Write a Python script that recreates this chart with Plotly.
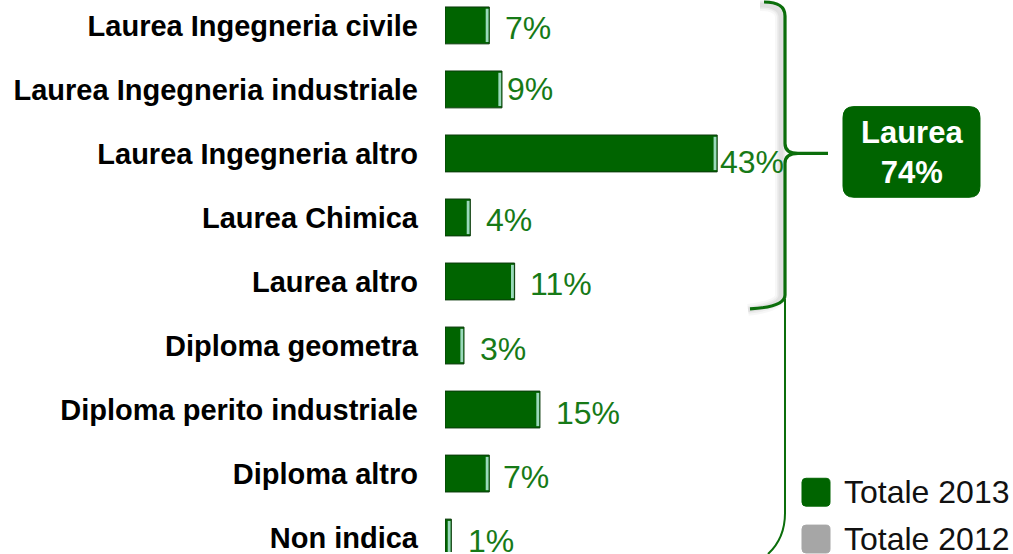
import plotly.graph_objects as go

categories = [
    "Laurea Ingegneria civile",
    "Laurea Ingegneria industriale",
    "Laurea Ingegneria altro",
    "Laurea Chimica",
    "Laurea altro",
    "Diploma geometra",
    "Diploma perito industriale",
    "Diploma altro",
    "Non indica",
]
values_2013 = [7, 9, 43, 4, 11, 3, 15, 7, 1]
value_labels = ["7%", "9%", "43%", "4%", "11%", "3%", "15%", "7%", "1%"]
group_label = "Laurea<br>74%"
legend_names = ["Totale 2013", "Totale 2012"]

W, H = 1013, 554
L_MARGIN = 445
PX_PER_UNIT = 6.33
PLOT_W = W - L_MARGIN
X_MAX = PLOT_W / PX_PER_UNIT
ROW = 64.25
FIRST_CENTER = 25.5

GREEN = "#006400"
TEXT_GREEN = "#177a17"
BRACE = "#0b6e0b"
FONT = "Liberation Sans, Arial, sans-serif"

label_gap = [16, 5, 3, 16, 15, 16, 16, 14, 17]
label_dy = [-3, 0, -9, -3, -3, -3, -3, -3, -3]


def P(x, y):
    """pixel -> paper coordinates"""
    return (x - L_MARGIN) / PLOT_W, 1 - y / H


def path(cmds):
    out = []
    for c in cmds:
        if isinstance(c, str):
            out.append(c)
        else:
            px, py = P(*c)
            out.append(f"{px:.5f},{py:.5f}")
    return " ".join(out)


def rrect(x0, y0, x1, y1, r):
    return path([
        "M", (x0 + r, y0), "L", (x1 - r, y0), "Q", (x1, y0), (x1, y0 + r),
        "L", (x1, y1 - r), "Q", (x1, y1), (x1 - r, y1), "L", (x0 + r, y1),
        "Q", (x0, y1), (x0, y1 - r), "L", (x0, y0 + r), "Q", (x0, y0), (x0 + r, y0), "Z",
    ])


fig = go.Figure()

# main bars
fig.add_trace(go.Bar(
    y=categories, x=values_2013, orientation="h", width=0.576,
    marker=dict(color=GREEN, line=dict(color="#0a3a0a", width=1)),
    showlegend=False, hoverinfo="skip",
))
# light bevel stripe at the bar ends
stripe = 0.45
fig.add_trace(go.Bar(
    y=categories, x=[stripe] * len(values_2013),
    base=[max(v - stripe - 0.12, 0) for v in values_2013],
    orientation="h", width=0.52,
    marker=dict(color="#9ad9bb", line=dict(width=0)),
    showlegend=False, hoverinfo="skip",
))

annotations = []
for c, v, t, g, dy in zip(categories, values_2013, value_labels, label_gap, label_dy):
    annotations.append(dict(
        x=v, y=c, xref="x", yref="y", text=t, showarrow=False,
        xanchor="left", yanchor="middle", xshift=g - 2, yshift=dy,
        font=dict(family=FONT, size=32, color=TEXT_GREEN),
    ))

shapes = []
# soft shadow of the Laurea brace
for w, a in [(12, 0.03), (8, 0.04), (5, 0.05)]:
    shapes.append(dict(
        type="path", xref="paper", yref="paper",
        path=path(["M", (760, 5), "Q", (781, 5), (781, 18), "L", (781, 296),
                   "Q", (781, 307), (748, 311)]),
        line=dict(color=f"rgba(0,0,0,{a})", width=w),
    ))
# thin large brace (lower part)
shapes.append(dict(
    type="path", xref="paper", yref="paper",
    path=path(["M", (785, 300), "L", (785, 515), "Q", (785, 540), (768, 556)]),
    line=dict(color=BRACE, width=2),
))
# Laurea brace
shapes.append(dict(
    type="path", xref="paper", yref="paper",
    path=path(["M", (764, 2), "Q", (785, 2), (785, 16), "L", (785, 144),
               "Q", (785, 154), (798, 154), "L", (828, 154),
               "M", (798, 154), "Q", (785, 154), (785, 164), "L", (785, 296),
               "Q", (785, 308), (750, 310)]),
    line=dict(color=BRACE, width=3.2),
))
# Laurea box
shapes.append(dict(
    type="path", xref="paper", yref="paper",
    path=rrect(843, 107, 980, 198, 11),
    fillcolor=GREEN, line=dict(color=GREEN, width=1),
))
annotations.append(dict(
    x=P(911.5, 0)[0], y=P(0, 153)[1], xref="paper", yref="paper",
    text=f"<b>{group_label}</b>", showarrow=False,
    xanchor="center", yanchor="middle",
    font=dict(family=FONT, size=31, color="white"),
))

# legend
legend_colors = [GREEN, "#a6a6a6"]
legend_y = [494, 541]
for name, col, cy in zip(legend_names, legend_colors, legend_y):
    shapes.append(dict(
        type="path", xref="paper", yref="paper",
        path=rrect(802, cy - 14, 830, cy + 14, 4),
        fillcolor=col, line=dict(color=col, width=1),
    ))
    annotations.append(dict(
        x=P(842, 0)[0], y=P(0, cy)[1], xref="paper", yref="paper",
        text=name, showarrow=False, xanchor="left", yanchor="middle",
        font=dict(family=FONT, size=32, color="#111111"),
    ))

y_top = -FIRST_CENTER / ROW
y_bottom = y_top + H / ROW

fig.update_layout(
    width=W, height=H, autosize=False,
    margin=dict(l=L_MARGIN, r=0, t=0, b=0),
    plot_bgcolor="white", paper_bgcolor="white",
    barmode="overlay",
    xaxis=dict(range=[0, X_MAX], visible=False, fixedrange=True),
    yaxis=dict(
        type="category", categoryorder="array", categoryarray=categories,
        range=[y_bottom, y_top], showgrid=False, zeroline=False, showline=False,
        ticks="", ticklabelstandoff=26, fixedrange=True,
        tickfont=dict(family=FONT, size=29, color="black", weight="bold"),
    ),
    shapes=shapes,
    annotations=annotations,
    showlegend=False,
)

fig.write_html(
    "out.html",
    config={"displayModeBar": False},
    post_script="document.body.style.margin='0';document.body.style.overflow='hidden';",
)
